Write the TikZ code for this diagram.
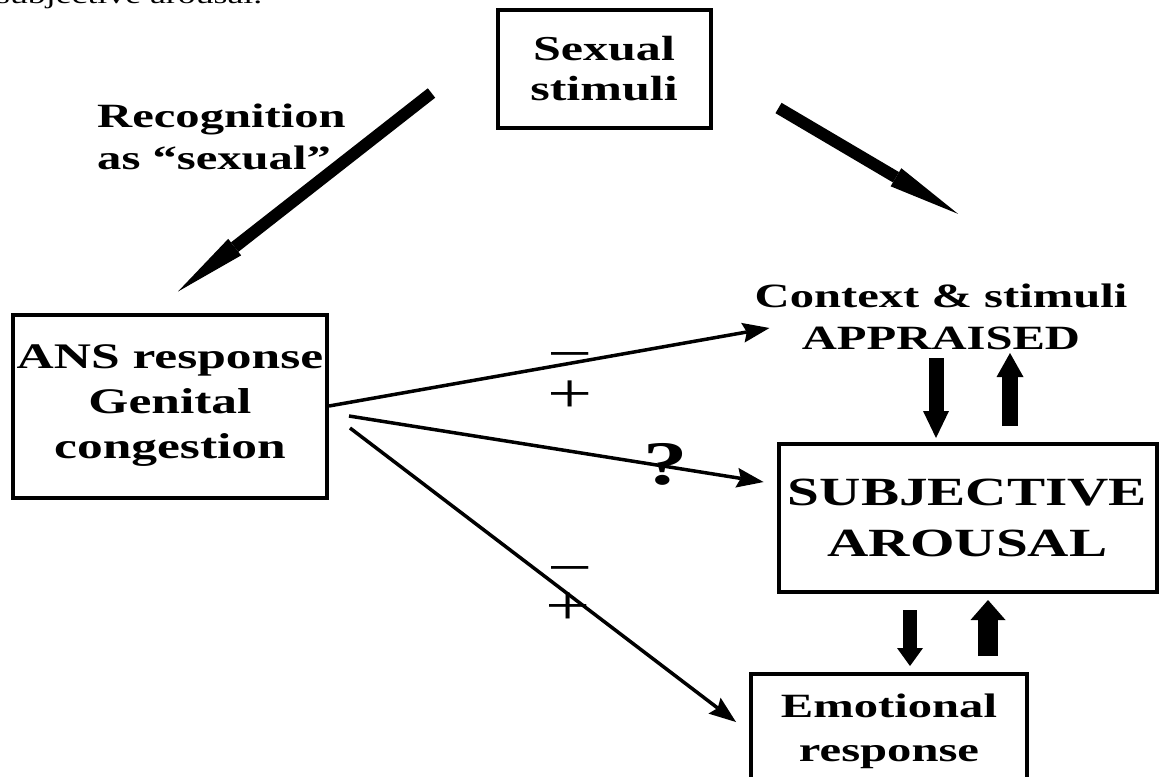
\documentclass[tikz,border=0pt]{standalone}
\usepackage{fontspec}
\usetikzlibrary{arrows.meta}
\newfontfamily\lab{Liberation Serif}[FakeStretch=1.43]
\begin{document}
\begin{tikzpicture}[x=1pt,y=-1pt,
  box/.style={draw, line width=4pt, inner sep=0pt, align=center,
    font=\lab\bfseries\fontsize{34}{44}\selectfont},
  lbl/.style={inner sep=0pt, align=center,
    font=\lab\bfseries\fontsize{34}{42}\selectfont},
  sign/.style={inner sep=0pt, font=\lab\fontsize{56}{56}\selectfont},
  thinarrow/.style={line width=3.5pt,
    -{Stealth[length=27pt,width=20pt,inset=4pt,line width=0pt]}},
  bigarrow/.style={line width=12pt,
    -{Triangle[length=72pt,width=21pt,line width=0pt]}},
  blockarrow/.style n args={3}{line width=#1,
    -{Triangle[length=#3,width=#2,line width=0pt]}}
]
\useasboundingbox (0,0) rectangle (1161,776);
\clip (0,0) rectangle (1161,776);

% cropped caption at the top
\node[anchor=base west, inner sep=0pt, font=\lab\fontsize{25}{25}\selectfont]
  (cap) at (-4,4) {subjective arousal.};

% boxes
\node[box, minimum width=213pt, minimum height=118pt,
  font=\lab\bfseries\fontsize{35}{40}\selectfont] (stim) at (604,69) {Sexual\\stimuli};
\node[box, minimum width=314pt, minimum height=183pt,
  font=\lab\bfseries\fontsize{36}{45}\selectfont] (ans) at (170,406)
  {ANS response\\Genital\\congestion};
\node[box, minimum width=378pt, minimum height=148pt,
  font=\lab\bfseries\fontsize{40}{51}\selectfont] (subj) at (967.5,518)
  {SUBJECTIVE\\AROUSAL};
\node[box, minimum width=276pt, minimum height=114pt] (emo) at (889,731)
  {Emotional\\response};

% free labels
\node[lbl] (ctx) at (941,317) {Context \& stimuli\\APPRAISED};
\node[lbl, align=left, anchor=west] (rec) at (97,137) {Recognition\\as “sexual”};

% thick diagonal arrows from the stimuli
\draw[bigarrow] ([shift={(-64,24)}]stim.west) -- ([shift={(8,-21)}]ans.north);
\draw[bigarrow] ([shift={(66,39)}]stim.east) -- ([shift={(17,-70)}]ctx.north);

% thin arrows from the ANS response
\draw[thinarrow] (ans.east) -- ([shift={(15,11)}]ctx.west);
\draw[thinarrow] ([shift={(20,10)}]ans.east) -- ([shift={(-13,-36)}]subj.west);
\draw[thinarrow] ([shift={(21,22)}]ans.east) -- ([shift={(-13,-9)}]emo.west);

% signs
\node[sign] (m1) at (570,363) {−};
\node[sign] (p1) at (570,397) {+};
\node[sign] (m2) at (570,576) {−};
\node[sign] (p2) at (568,609) {+};
\node[inner sep=0pt, font=\lab\bfseries\fontsize{62}{62}\selectfont] (q) at (666,464) {?};

% block arrows between appraisal, arousal and emotion
\draw[blockarrow={15pt}{26pt}{27pt}] ([shift={(-31.5,-84)}]subj.north) -- ([shift={(-31.5,-4)}]subj.north);
\draw[blockarrow={16pt}{27pt}{24pt}] ([shift={(42.5,-16)}]subj.north) -- ([shift={(42.5,-89)}]subj.north);
\draw[blockarrow={14pt}{26pt}{18pt}] ([shift={(-57.5,16)}]subj.south) -- ([shift={(21,-6)}]emo.north);
\draw[blockarrow={20pt}{35pt}{20pt}] ([shift={(99,-16)}]emo.north) -- ([shift={(20.5,6)}]subj.south);
\end{tikzpicture}
\end{document}
